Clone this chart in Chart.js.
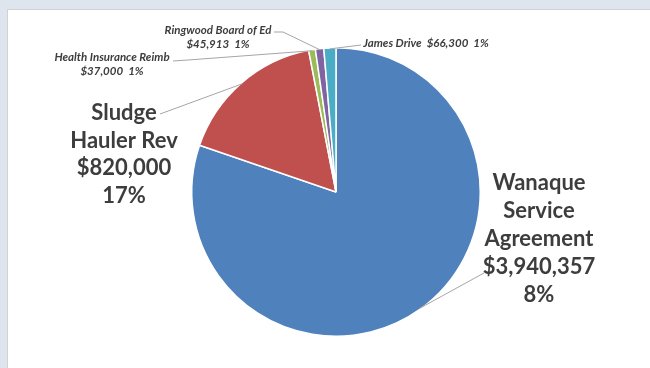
<!DOCTYPE html>
<html>
<head>
<meta charset="utf-8">
<script src="https://cdn.jsdelivr.net/npm/chart.js@4"></script>
<style>
  html, body { margin: 0; padding: 0; }
  body { width: 650px; height: 368px; background: #dfe5ef; position: relative; overflow: hidden; }
  .panel { position: absolute; left: 7px; top: 9px; right: -2px; bottom: -2px; background: #fff; border: 1px solid #d2d2d2; }
  canvas { position: absolute; left: 0; top: 0; }
</style>
</head>
<body>
<div class="panel"></div>
<canvas id="pie" width="650" height="368"></canvas>
<script>
const names = ['Wanaque Service Agreement', 'Sludge Hauler Rev', 'Health Insurance Reimb', 'Ringwood Board of Ed', 'James Drive'];
const values = [3940357, 820000, 37000, 45913, 66300];
const pctLabels = ['8%', '17%', '1%', '1%', '1%'];
const colors = ['#4f81bd', '#c0504d', '#9bbb59', '#8064a2', '#4bacc6'];

function money(v) {
  return '$' + v.toLocaleString('en-US');
}

// label layout: text lines, anchor for text, bend points of leader line
const labelLayout = [
  { lines: ['Wanaque', 'Service', 'Agreement', money(values[0]), pctLabels[0]], x: 539, y: 183, step: 28, big: true, line: [[484, 273]] },
  { lines: ['Sludge', 'Hauler Rev', money(values[1]), pctLabels[1]], x: 124, y: 113, step: 27.5, big: true, line: [[160, 114]] },
  { lines: [names[2], money(values[2]) + '  ' + pctLabels[2]], x: 112, y: 57, step: 14, big: false, line: [[173, 61], [188, 60]] },
  { lines: [names[3], money(values[3]) + '  ' + pctLabels[3]], x: 218, y: 30, step: 14, big: false, line: [[274, 32], [283, 32]] },
  { lines: [names[4] + '  ' + money(values[4]) + '  ' + pctLabels[4]], x: 426, y: 43, step: 14, big: false, line: [[361, 45]] }
];

const labelPlugin = {
  id: 'pieLabels',
  afterDraw(chart) {
    const ctx = chart.ctx;
    const arcs = chart.getDatasetMeta(0).data;
    ctx.save();
    arcs.forEach((arc, i) => {
      const lay = labelLayout[i];
      const p = arc.getProps(['x', 'y', 'startAngle', 'endAngle', 'outerRadius'], true);
      const mid = (p.startAngle + p.endAngle) / 2;
      const ex = p.x + Math.cos(mid) * (p.outerRadius - 1);
      const ey = p.y + Math.sin(mid) * (p.outerRadius - 1);

      // leader line
      ctx.strokeStyle = '#a5a5a5';
      ctx.lineWidth = 1;
      ctx.beginPath();
      ctx.moveTo(lay.line[0][0], lay.line[0][1]);
      lay.line.slice(1).forEach(pt => ctx.lineTo(pt[0], pt[1]));
      ctx.lineTo(ex, ey);
      ctx.stroke();

      // text
      ctx.fillStyle = '#3d3d3d';
      ctx.textAlign = 'center';
      ctx.textBaseline = 'middle';
      ctx.font = lay.big ? 'bold 22px Lato, "Open Sans", sans-serif' : 'italic bold 11.5px Lato, "Open Sans", sans-serif';
      lay.lines.forEach((t, k) => ctx.fillText(t, lay.x, lay.y + k * lay.step));
    });
    ctx.restore();
  }
};

new Chart(document.getElementById('pie'), {
  type: 'pie',
  data: {
    labels: names,
    datasets: [{
      data: values,
      backgroundColor: colors,
      borderColor: '#ffffff',
      borderWidth: 1.5
    }]
  },
  options: {
    responsive: false,
    animation: false,
    layout: { padding: { left: 191, right: 169, top: 47, bottom: 31 } },
    plugins: {
      legend: { display: false },
      tooltip: { enabled: false }
    }
  },
  plugins: [labelPlugin]
});
</script>
</body>
</html>
